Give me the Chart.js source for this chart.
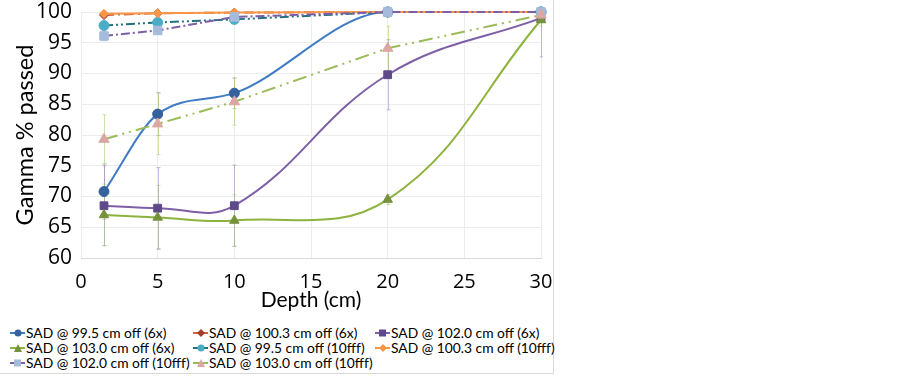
<!DOCTYPE html>
<html>
<head>
<meta charset="utf-8">
<script src="https://cdn.jsdelivr.net/npm/chart.js@4.4.0/dist/chart.umd.min.js"></script>
<style>
  html, body { margin: 0; padding: 0; background: #fff; }
  #wrap { position: relative; width: 553px; height: 373px; border-right: 1px solid #d9d9d9; border-bottom: 1px solid #d9d9d9; }
  #c { position: absolute; left: 0; top: 0; }
  .lg { position: absolute; font-family: Lato, "Liberation Sans", sans-serif; font-size: 13.8px; color: #000; white-space: nowrap; line-height: 15px; display: flex; align-items: center; }
  .lg svg { display: block; margin-right: 1px; }
</style>
</head>
<body>
<div id="wrap">
  <canvas id="c" width="553" height="318"></canvas>
  <div id="legend"></div>
</div>
<script>
// ---- data ----
const depth = [1.5, 5, 10, 20, 30];
const xTicks = [0, 5, 10, 15, 20, 25, 30];
const yTicks = [60, 65, 70, 75, 80, 85, 90, 95, 100];

const labels = [
  "SAD @ 99.5 cm off (6x)",
  "SAD @ 100.3 cm off (6x)",
  "SAD @ 102.0 cm off (6x)",
  "SAD @ 103.0 cm off (6x)",
  "SAD @ 99.5 cm off (10fff)",
  "SAD @ 100.3 cm off (10fff)",
  "SAD @ 102.0 cm off (10fff)",
  "SAD @ 103.0 cm off (10fff)"
];

const sad995_6x   = [70.8, 83.4, 86.8, 100.0, 100.0];
const sad1003_6x  = [99.5, 99.8, 99.9, 100.0, 100.0];
const sad1020_6x  = [68.5, 68.1, 68.5, 89.8, 99.0];
const sad1030_6x  = [67.0, 66.6, 66.1, 69.5, 98.7];
const sad995_10   = [97.8, 98.3, 98.8, 100.0, 100.0];
const sad1003_10  = [99.7, 99.8, 99.9, 100.0, 100.0];
const sad1020_10  = [96.1, 97.0, 99.2, 100.0, 100.0];
const sad1030_10  = [79.3, 81.8, 85.4, 94.1, 99.5];

// error bar half-widths (±)
const err995_6x   = [4.5, 3.5, 2.5, 0.0, 0.0];
const err1003_6x  = [0.3, 0.2, 0.1, 0.0, 0.0];
const err1020_6x  = [6.5, 6.6, 6.6, 5.7, 6.3];
const err1030_6x  = [5.0, 5.2, 4.2, 0.8, 1.0];
const err995_10   = [0.6, 0.6, 0.4, 0.0, 0.0];
const err1003_10  = [0.3, 0.2, 0.1, 0.0, 0.0];
const err1020_10  = [0.8, 0.6, 0.4, 0.0, 0.0];
const err1030_10  = [4.0, 5.0, 3.8, 3.6, 0.5];

const values = [sad995_6x, sad1003_6x, sad1020_6x, sad1030_6x, sad995_10, sad1003_10, sad1020_10, sad1030_10];
const errors = [err995_6x, err1003_6x, err1020_6x, err1030_6x, err995_10, err1003_10, err1020_10, err1030_10];

// ---- styles ----
const lineColors   = ['#3f7bc4', '#d0603a', '#7d5fa8', '#8db33f', '#1f7080', '#f79646', '#7d5fa8', '#9bbb59'];
const markerColors = ['#35619c', '#a33c2b', '#5e4a8a', '#76923c', '#4bacc6', '#f79646', '#a6bbdc', '#dca7a3'];
const errColors    = ['rgba(150,160,150,0.55)', 'rgba(200,90,60,0.4)', 'rgba(150,120,200,0.5)', 'rgba(150,200,90,0.5)',
                      'rgba(75,172,198,0.4)', 'rgba(247,150,70,0.4)', 'rgba(150,120,200,0.4)', 'rgba(170,210,110,0.6)'];
const shapes  = ['circle', 'rectRot', 'rect', 'triangle', 'circle', 'rectRot', 'rect', 'triangle'];
const radii   = [5, 4.5, 5.5, 5.5, 5, 4.5, 6, 6];
const dashes  = [[], [10,4,2,4], [], [], [9,3,2,3,2,3], [], [9,3,2,3], [14,5,2,5,2,5]];
const tension = [0.4, 0, 0.4, 0.4, 0, 0, 0, 0];
const interp  = ['monotone', 'default', 'default', 'default', 'default', 'default', 'default', 'default'];

const datasets = labels.map((lab, k) => ({
  label: lab,
  data: depth.map((x, i) => ({ x: x, y: values[k][i] })),
  errs: errors[k],
  order: labels.length - k,
  borderColor: lineColors[k],
  backgroundColor: markerColors[k],
  pointBackgroundColor: markerColors[k],
  pointBorderColor: markerColors[k],
  pointStyle: shapes[k],
  pointRadius: radii[k],
  pointBorderWidth: 1,
  borderWidth: 2,
  borderDash: dashes[k],
  tension: tension[k],
  cubicInterpolationMode: interp[k],
  clip: false,
  fill: false
}));

const errorBars = {
  id: 'errorBars',
  beforeDatasetsDraw(chart) {
    const { ctx, chartArea, scales: { x, y } } = chart;
    ctx.save();
    ctx.beginPath();
    ctx.rect(chartArea.left, chartArea.top - 1, chartArea.right - chartArea.left + 2, chartArea.bottom - chartArea.top + 2);
    ctx.clip();
    ctx.lineWidth = 1;
    chart.data.datasets.forEach((ds, k) => {
      ctx.strokeStyle = errColors[k];
      ds.data.forEach((p, i) => {
        const e = ds.errs[i];
        if (!e) return;
        const px = Math.round(x.getPixelForValue(p.x)) + 0.5;
        const y1 = y.getPixelForValue(p.y + e);
        const y2 = y.getPixelForValue(p.y - e);
        ctx.beginPath();
        ctx.moveTo(px, y1); ctx.lineTo(px, y2);
        ctx.moveTo(px - 2, y1); ctx.lineTo(px + 2, y1);
        ctx.moveTo(px - 2, y2); ctx.lineTo(px + 2, y2);
        ctx.stroke();
      });
    });
    ctx.restore();
  }
};

function zeroPad(s) { s.paddingTop = 0; s.paddingBottom = 0; s.paddingLeft = 0; s.paddingRight = 0; }

new Chart(document.getElementById('c'), {
  type: 'line',
  data: { datasets: datasets },
  plugins: [errorBars],
  options: {
    responsive: false,
    animation: false,
    layout: { padding: { top: 12, right: 12, left: 0, bottom: 0 } },
    plugins: { legend: { display: false }, tooltip: { enabled: false } },
    scales: {
      x: {
        type: 'linear', min: 0, max: 30,
        afterBuildTicks: (s) => { s.ticks = xTicks.map(v => ({ value: v })); },
        afterFit: (s) => { s.height = 60; zeroPad(s); },
        ticks: { color: '#000', padding: 12, font: { family: 'Open Sans', size: 20 } },
        grid: { color: '#ececec', drawTicks: false },
        border: { color: '#d9d9d9' },
        title: { display: true, text: 'Depth (cm)', color: '#000', font: { family: 'Lato', size: 21 }, padding: { top: 0, bottom: 5 } }
      },
      y: {
        min: 60, max: 100,
        afterBuildTicks: (s) => { s.ticks = yTicks.map(v => ({ value: v })); },
        afterFit: (s) => { s.width = 81; zeroPad(s); },
        ticks: { color: '#000', padding: 9, font: { family: 'Open Sans', size: 21 } },
        grid: { color: '#ececec', drawTicks: false },
        border: { display: false },
        title: { display: true, text: 'Gamma % passed', color: '#000', font: { family: 'Lato', size: 23.5 }, padding: { top: 11, bottom: 0 } }
      }
    }
  }
});

// ---- legend (HTML) ----
const colLeft = [10, 193, 375];
const rowMid = [333, 348, 363];
function markerSvg(k) {
  const c = markerColors[k], lc = lineColors[k];
  let m = '';
  if (shapes[k] === 'circle') m = `<circle cx="8" cy="5" r="3.5" fill="${c}"/>`;
  else if (shapes[k] === 'rect') m = `<rect x="4" y="1.5" width="7" height="7" fill="${c}"/>`;
  else if (shapes[k] === 'rectRot') m = `<polygon points="8,1 12,5 8,9 4,5" fill="${c}"/>`;
  else m = `<polygon points="8,1 12,9 4,9" fill="${c}"/>`;
  return `<svg width="15" height="10" viewBox="0 0 15 10"><line x1="0" y1="5" x2="15" y2="5" stroke="${lc}" stroke-width="2"/>${m}</svg>`;
}
const lg = document.getElementById('legend');
labels.forEach((lab, k) => {
  const d = document.createElement('div');
  d.className = 'lg';
  d.style.left = colLeft[k % 3] + 'px';
  d.style.top = (rowMid[Math.floor(k / 3)] - 8) + 'px';
  d.innerHTML = markerSvg(k) + '<span>' + lab + '</span>';
  lg.appendChild(d);
});
</script>
</body>
</html>
